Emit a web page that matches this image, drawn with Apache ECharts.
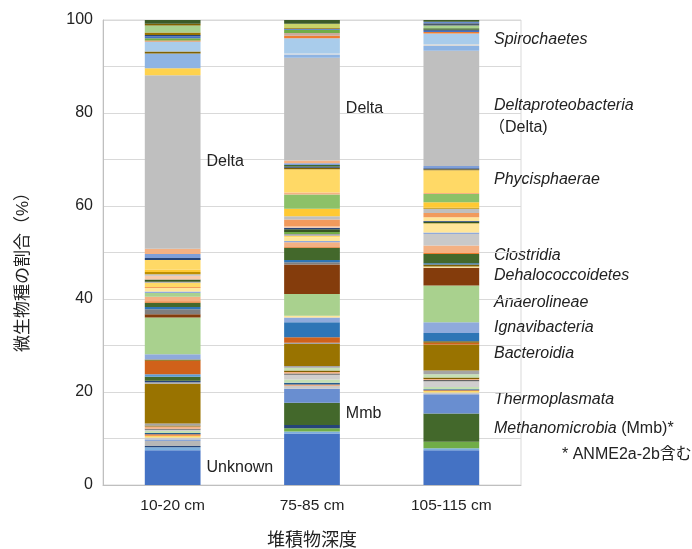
<!DOCTYPE html>
<html lang="ja">
<head>
<meta charset="UTF-8">
<title>微生物種の割合</title>
<script src="https://cdn.jsdelivr.net/npm/echarts@6/dist/echarts.min.js"></script>
<style>
  html, body { margin: 0; padding: 0; background: #fff; }
  #chart { width: 692px; height: 549px; }
</style>
</head>
<body>
<div id="chart"></div>
<script>
// 深度ごとの組成 (%), 下から順に積み上げ
var depths = ['10-20 cm', '75-85 cm', '105-115 cm'];

var share10_20 = [
  7.5, 0.6, 0, 0.3, 0, 1.1, 0.3, 0.4, 0.4, 0.3,
  0.3, 0.4, 0.3, 0.2, 0.5, 0.2, 0, 0.4, 8.6, 0.3,
  0.3, 0.9, 0.5, 2.9, 0.3, 0, 1.1, 0, 7.9, 0.7,
  0, 0, 1.1, 0.5, 0.9, 0.3, 1.0, 0, 0.8, 0.3,
  0.8, 0.2, 0.9, 0.2, 0, 0.5, 0, 0.8, 0, 0,
  0.3, 0.5, 0.5, 0, 0, 2.1, 0, 0.4, 0, 0.9,
  1.1, 37.3, 1.5, 3.2, 0.4, 0, 2.2, 0.2, 0, 0.5,
  0.4, 0.3, 0.5, 0, 1.5, 0, 0.4, 0, 0, 0.8
];
var share75_85 = [
  11.1, 0.4, 0.7, 0.7, 4.8, 0, 3.0, 0.7, 0, 0.2,
  0.4, 0.7, 1.0, 0.3, 0.3, 0.3, 0.6, 0.4, 4.7, 0.3,
  0, 0, 0, 1.2, 0, 3.2, 1.0, 0.4, 4.7, 6.3,
  0, 0, 0.5, 0.5, 2.6, 0.2, 1.0, 0, 0, 0.3,
  0.8, 0, 0.3, 0.4, 0.4, 0.6, 0.3, 0.3, 0, 1.5,
  0.7, 0, 1.6, 3.1, 0.4, 5.0, 0.3, 0.3, 0.3, 0.4,
  0.6, 22.1, 0, 0.7, 0, 0.2, 3.3, 0.5, 0.6, 0.7,
  0.2, 0, 0.2, 0, 0, 0.9, 0, 0, 0, 0.8
];
var share105_115 = [
  7.5, 0.4, 1.4, 0, 6.1, 0, 4.1, 0.4, 0.3, 0.2,
  0.2, 0.5, 1.2, 0.3, 0.2, 0.3, 0.7, 0.8, 5.6, 0,
  0, 0, 0, 0.4, 0.3, 1.8, 2.3, 0, 7.9, 3.8,
  0.3, 0.4, 0, 0.3, 2.0, 0.2, 1.6, 2.5, 0, 0.3,
  1.7, 0, 0.3, 0, 0, 0.3, 0.2, 0, 0.8, 0.9,
  0.9, 0.2, 1.2, 1.8, 0.2, 4.9, 0.2, 0.2, 0, 0.5,
  0, 24.8, 0, 1.0, 0, 0.4, 2.3, 0.3, 0, 0,
  0.3, 0.2, 0, 0.3, 0.6, 0, 0, 0.5, 0.3, 0.4
];

var segColors = [
  '#4472C4', '#7CAFDD', '#70AD47', '#264478', '#43682B', '#B7B7B7', '#698ED0', '#C9C9C9', '#FFD966', '#ED7D31',
  '#255E91', '#C5E0B4', '#D0CECE', '#636363', '#F4B183', '#7F6000', '#C5E0B4', '#A5A5A5', '#997300', '#A5A5A5',
  '#264478', '#43682B', '#5B9BD5', '#D0611A', '#7F6000', '#2E75B6', '#8FAADC', '#FFE699', '#A9D18E', '#843C0C',
  '#FFE699', '#7F6000', '#7F7F7F', '#2E75B6', '#43682B', '#ED7D31', '#F4B183', '#C9C9C9', '#A9D18E', '#8FAADC',
  '#FFE699', '#ED7D31', '#FFD966', '#A5A5A5', '#70AD47', '#375623', '#264478', '#F8CBAD', '#FFE699', '#F19A5C',
  '#BFBFBF', '#BF9000', '#FFC933', '#8CC168', '#F4B183', '#FFD966', '#7F6000', '#264478', '#43682B', '#7F9FD8',
  '#F4B183', '#BFBFBF', '#FFD24D', '#8EB4E3', '#7F6000', '#D9D9D9', '#A9CCEB', '#ED7D31', '#C9A99A', '#70AD47',
  '#4472C4', '#264478', '#997300', '#43682B', '#A9D18E', '#C9D46A', '#7F6000', '#4A5A68', '#698ED0', '#3B5A28'
];

// 棒の右に付けるラベル: [セグメント番号, 棒番号, 文字]
var barNotes = [[0, 0, 'Unknown'], [4, 1, 'Mmb'], [61, 0, 'Delta'], [61, 1, 'Delta']];

// 右側の凡例テキスト
var taxonNames = ['Spirochaetes', 'Deltaproteobacteria', '（Delta)', 'Phycisphaerae', 'Clostridia',
  'Dehalococcoidetes', 'Anaerolineae', 'Ignavibacteria', 'Bacteroidia', 'Thermoplasmata',
  '{i|Methanomicrobia} (Mmb)*', '* ANME2a-2b含む'];
var taxonY = [38, 104, 126, 178, 254, 274, 301, 326, 352, 398, 427, 453];
var taxonItalic = [1, 1, 0, 1, 1, 1, 1, 1, 1, 1, 0, 0];

var FONT = "'Liberation Sans', 'Noto Sans CJK JP', sans-serif";
var TXT = '#222';

var series = segColors.map(function (c, i) {
  var vals = [share10_20[i], share75_85[i], share105_115[i]];
  var data = vals.map(function (v, b) {
    var item = { value: v };
    barNotes.forEach(function (n) {
      if (n[0] === i && n[1] === b) {
        item.label = { show: true, position: 'right', distance: 6, formatter: n[2],
          color: TXT, fontSize: 16, fontFamily: FONT };
      }
    });
    return item;
  });
  return {
    type: 'bar', stack: 'all', barWidth: '40%', data: data,
    itemStyle: { color: c }, silent: true, animation: false
  };
});

var graphics = taxonNames.map(function (t, i) {
  return {
    type: 'text',
    left: i === 11 ? 562 : (i === 2 ? 489 : 494),
    top: taxonY[i] - 6,
    style: {
      text: t, fill: TXT, fontSize: 16, fontFamily: FONT,
      fontStyle: taxonItalic[i] ? 'italic' : 'normal',
      rich: { i: { fontStyle: 'italic', fontSize: 16, fontFamily: FONT, fill: TXT } }
    }
  };
});
// 縦軸タイトル
graphics.push({
  type: 'text', x: 23, y: 268, rotation: Math.PI / 2,
  style: { text: '微生物種の割合（%）', fill: TXT, fontSize: 17, fontFamily: FONT,
    align: 'center', verticalAlign: 'middle' }
});

var chart = echarts.init(document.getElementById('chart'), null, { renderer: 'canvas' });
chart.setOption({
  animation: false,
  grid: { left: 103, right: 171, top: 20, bottom: 64, outerBoundsMode: 'none',
    show: true, borderColor: '#D9D9D9', borderWidth: 1 },
  xAxis: {
    type: 'category', data: depths,
    name: '堆積物深度', nameLocation: 'middle', nameGap: 47,
    nameTextStyle: { fontSize: 18, color: TXT, fontFamily: FONT },
    axisLine: { lineStyle: { color: '#BFBFBF' } },
    axisTick: { show: false },
    axisLabel: { fontSize: 15.5, color: TXT, margin: 13, fontFamily: FONT }
  },
  yAxis: {
    type: 'value', min: 0, max: 100, interval: 10,
    axisLine: { show: true, lineStyle: { color: '#BFBFBF' } },
    axisTick: { show: false },
    splitLine: { lineStyle: { color: '#D9D9D9' } },
    axisLabel: {
      fontSize: 16, color: TXT, margin: 10, fontFamily: FONT,
      formatter: function (v) { return v % 20 === 0 ? v : ''; }
    }
  },
  graphic: graphics,
  series: series
});
</script>
</body>
</html>
